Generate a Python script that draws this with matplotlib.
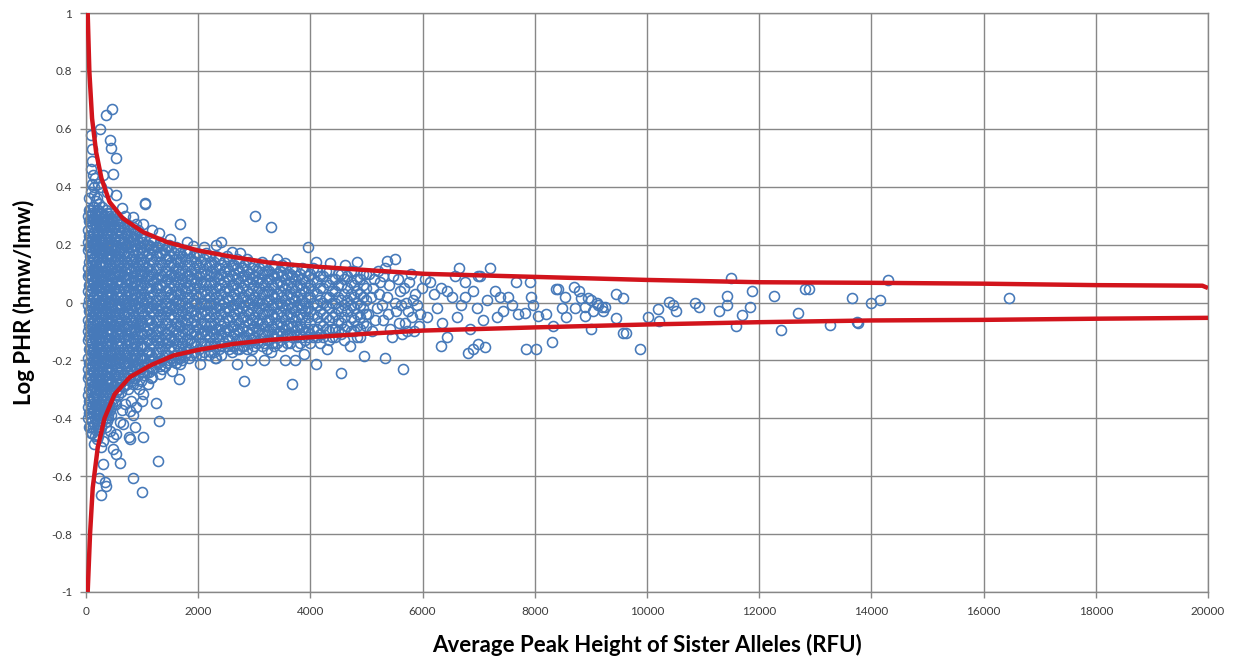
import matplotlib
matplotlib.use('Agg')
from matplotlib import pyplot as plt

# Bounds of the peak height ratio (upper / lower red curves)
upper_x = [30, 60, 108, 180, 275, 420, 660, 1020, 1440, 1990, 2630, 3290, 4010, 5000,
           6040, 8090, 9990, 12000, 14000, 16000, 18000, 19900, 20000]
upper_y = [1.0, 0.797, 0.636, 0.52, 0.429, 0.347, 0.29, 0.243, 0.209, 0.18, 0.157, 0.137,
           0.125, 0.112, 0.099, 0.088, 0.078, 0.07, 0.068, 0.065, 0.06, 0.058, 0.05]
lower_x = [30, 72, 120, 210, 330, 510, 780, 1140, 1560, 1990, 2630, 3290, 4010, 5000,
           6000, 8000, 9990, 12000, 14000, 16000, 18000, 20000]
lower_y = [-1.0, -0.80, -0.64, -0.50, -0.40, -0.317, -0.258, -0.218, -0.183, -0.164, -0.143,
           -0.129, -0.12, -0.108, -0.097, -0.086, -0.076, -0.068, -0.062, -0.06, -0.056, -0.053]

# main cloud of loci, stored per RFU column
cloud_x = [40, 75, 110, 145, 180, 215, 250, 290, 330, 370, 410, 450, 495, 540, 585,
           630, 680, 730, 780, 830, 880, 930, 980,
           1040, 1120, 1200, 1280, 1360, 1440, 1520, 1600, 1680, 1760, 1840, 1920,
           2010, 2100, 2190, 2280, 2370, 2460, 2550, 2640, 2730, 2820, 2910,
           3000, 3090, 3180, 3270, 3360, 3450, 3540, 3630, 3720, 3810, 3900,
           4000, 4110, 4220, 4330, 4440, 4550, 4660, 4770, 4880, 4990]
cloud_y = [
    [0.30, 0.25, 0.21, 0.18, 0.12, 0.09, 0.04, -0.01, -0.06, -0.10, -0.13, -0.19, -0.23, -0.26, -0.32, -0.36, -0.40],
    [0.32, 0.28, 0.23, 0.19, 0.16, 0.10, 0.06, 0.03, -0.03, -0.07, -0.11, -0.16, -0.21, -0.25, -0.28, -0.34, -0.38, -0.43],
    [0.31, 0.27, 0.22, 0.17, 0.14, 0.09, 0.05, 0.00, -0.05, -0.08, -0.14, -0.17, -0.22, -0.27, -0.30, -0.36, -0.41, -0.45],
    [0.33, 0.29, 0.24, 0.21, 0.15, 0.11, 0.07, 0.02, -0.02, -0.06, -0.11, -0.16, -0.19, -0.24, -0.29, -0.33, -0.37, -0.42],
    [0.30, 0.26, 0.22, 0.18, 0.13, 0.08, 0.05, 0.01, -0.04, -0.09, -0.13, -0.17, -0.21, -0.26, -0.31, -0.35, -0.39, -0.44],
    [0.32, 0.28, 0.25, 0.19, 0.15, 0.11, 0.06, 0.02, -0.02, -0.07, -0.11, -0.15, -0.20, -0.24, -0.28, -0.32, -0.37, -0.41, -0.46],
    [0.31, 0.26, 0.21, 0.17, 0.13, 0.08, 0.04, -0.01, -0.05, -0.09, -0.14, -0.18, -0.22, -0.27, -0.31, -0.35, -0.40, -0.44],
    [0.33, 0.28, 0.24, 0.20, 0.16, 0.11, 0.07, 0.03, -0.02, -0.06, -0.10, -0.15, -0.19, -0.23, -0.28, -0.32, -0.36, -0.41],
    [0.30, 0.26, 0.22, 0.18, 0.13, 0.09, 0.05, 0.00, -0.04, -0.08, -0.12, -0.17, -0.21, -0.25, -0.30, -0.34, -0.38],
    [0.31, 0.28, 0.23, 0.19, 0.15, 0.11, 0.06, 0.02, -0.03, -0.07, -0.11, -0.15, -0.20, -0.24, -0.28, -0.33, -0.37, -0.41],
    [0.30, 0.26, 0.22, 0.17, 0.13, 0.09, 0.04, 0.00, -0.04, -0.09, -0.13, -0.17, -0.21, -0.26, -0.30, -0.35],
    [0.29, 0.25, 0.21, 0.16, 0.12, 0.08, 0.03, -0.01, -0.05, -0.10, -0.14, -0.18, -0.23, -0.27, -0.31, -0.36, -0.39],
    [0.29, 0.26, 0.22, 0.18, 0.14, 0.10, 0.05, 0.01, -0.03, -0.08, -0.12, -0.16, -0.20, -0.25, -0.29, -0.33],
    [0.28, 0.24, 0.20, 0.16, 0.11, 0.07, 0.03, -0.02, -0.06, -0.10, -0.14, -0.19, -0.23, -0.27, -0.31, -0.35],
    [0.28, 0.25, 0.21, 0.17, 0.13, 0.09, 0.04, 0.00, -0.04, -0.08, -0.13, -0.17, -0.21, -0.25, -0.30],
    [0.28, 0.24, 0.19, 0.15, 0.11, 0.07, 0.02, -0.02, -0.06, -0.10, -0.15, -0.19, -0.23, -0.27, -0.31],
    [0.26, 0.22, 0.17, 0.13, 0.09, 0.05, 0.00, -0.04, -0.08, -0.12, -0.17, -0.21, -0.25, -0.29],
    [0.27, 0.23, 0.19, 0.14, 0.10, 0.06, 0.02, -0.03, -0.07, -0.11, -0.15, -0.19, -0.24, -0.28],
    [0.25, 0.21, 0.16, 0.12, 0.08, 0.04, -0.01, -0.05, -0.09, -0.13, -0.18, -0.22, -0.26],
    [0.26, 0.22, 0.18, 0.14, 0.09, 0.05, 0.01, -0.03, -0.07, -0.12, -0.16, -0.20, -0.24, -0.28],
    [0.24, 0.20, 0.15, 0.11, 0.07, 0.03, -0.01, -0.06, -0.10, -0.14, -0.18, -0.22, -0.26],
    [0.25, 0.21, 0.17, 0.13, 0.08, 0.04, 0.00, -0.04, -0.08, -0.13, -0.17, -0.21, -0.25],
    [0.23, 0.19, 0.15, 0.10, 0.06, 0.02, -0.02, -0.06, -0.11, -0.15, -0.19, -0.23, -0.27],
    [0.22, 0.18, 0.14, 0.11, 0.07, 0.03, 0.00, -0.04, -0.08, -0.11, -0.15, -0.19, -0.22, -0.25],
    [0.20, 0.17, 0.13, 0.09, 0.05, 0.02, -0.02, -0.06, -0.09, -0.13, -0.17, -0.20, -0.24],
    [0.21, 0.18, 0.14, 0.10, 0.07, 0.03, -0.01, -0.04, -0.08, -0.12, -0.15, -0.19, -0.23],
    [0.19, 0.16, 0.12, 0.08, 0.05, 0.01, -0.03, -0.06, -0.10, -0.14, -0.17, -0.21],
    [0.20, 0.17, 0.13, 0.09, 0.06, 0.02, -0.02, -0.05, -0.09, -0.13, -0.16, -0.20, -0.23],
    [0.19, 0.15, 0.11, 0.08, 0.04, 0.00, -0.03, -0.07, -0.11, -0.14, -0.18, -0.21],
    [0.18, 0.14, 0.10, 0.07, 0.03, -0.01, -0.04, -0.08, -0.12, -0.15, -0.19],
    [0.19, 0.15, 0.12, 0.08, 0.04, 0.01, -0.03, -0.07, -0.10, -0.14, -0.18, -0.21],
    [0.17, 0.14, 0.10, 0.06, 0.03, -0.01, -0.05, -0.08, -0.12, -0.16, -0.19],
    [0.18, 0.15, 0.11, 0.07, 0.04, 0.00, -0.04, -0.07, -0.11, -0.15, -0.18],
    [0.17, 0.13, 0.09, 0.06, 0.02, -0.02, -0.05, -0.09, -0.13, -0.16, -0.19],
    [0.16, 0.12, 0.08, 0.05, 0.01, -0.03, -0.06, -0.10, -0.14, -0.17],
    [0.16, 0.12, 0.09, 0.05, 0.02, -0.02, -0.05, -0.09, -0.12, -0.16],
    [0.15, 0.11, 0.07, 0.04, 0.00, -0.03, -0.07, -0.10, -0.14, -0.17],
    [0.16, 0.13, 0.09, 0.06, 0.02, -0.01, -0.05, -0.08, -0.12, -0.15, -0.18],
    [0.14, 0.10, 0.07, 0.03, 0.00, -0.04, -0.07, -0.11, -0.14, -0.17],
    [0.15, 0.12, 0.08, 0.05, 0.01, -0.02, -0.06, -0.09, -0.13, -0.16],
    [0.14, 0.11, 0.07, 0.04, 0.00, -0.03, -0.07, -0.10, -0.14],
    [0.15, 0.11, 0.08, 0.04, 0.01, -0.03, -0.06, -0.10, -0.13, -0.16],
    [0.13, 0.10, 0.06, 0.03, -0.01, -0.04, -0.08, -0.11, -0.15],
    [0.14, 0.11, 0.07, 0.04, 0.00, -0.03, -0.07, -0.10, -0.13, -0.16],
    [0.13, 0.09, 0.06, 0.02, -0.01, -0.05, -0.08, -0.12, -0.15],
    [0.14, 0.10, 0.07, 0.03, 0.00, -0.04, -0.07, -0.11, -0.14],
    [0.13, 0.09, 0.06, 0.02, -0.01, -0.05, -0.08, -0.12, -0.15],
    [0.12, 0.08, 0.05, 0.01, -0.02, -0.06, -0.09, -0.13],
    [0.13, 0.10, 0.06, 0.03, -0.01, -0.04, -0.08, -0.11, -0.14],
    [0.11, 0.08, 0.04, 0.01, -0.03, -0.06, -0.10, -0.13],
    [0.12, 0.09, 0.05, 0.02, -0.02, -0.05, -0.09, -0.12, -0.15],
    [0.11, 0.07, 0.04, 0.00, -0.03, -0.07, -0.10, -0.13],
    [0.12, 0.08, 0.05, 0.01, -0.02, -0.06, -0.09, -0.12],
    [0.10, 0.07, 0.03, 0.00, -0.04, -0.07, -0.11, -0.14],
    [0.11, 0.08, 0.04, 0.01, -0.03, -0.06, -0.10],
    [0.10, 0.06, 0.03, -0.01, -0.04, -0.08, -0.11, -0.14],
    [0.11, 0.07, 0.04, 0.00, -0.03, -0.07, -0.10, -0.13],
    [0.10, 0.06, 0.02, -0.03, -0.07, -0.11, -0.14],
    [0.11, 0.07, 0.03, -0.01, -0.05, -0.09, -0.12],
    [0.09, 0.05, 0.00, -0.04, -0.08, -0.12],
    [0.11, 0.06, 0.02, -0.02, -0.06, -0.10, -0.13],
    [0.08, 0.04, 0.00, -0.04, -0.09, -0.12],
    [0.10, 0.06, 0.01, -0.03, -0.07, -0.11],
    [0.09, 0.05, 0.01, -0.03, -0.08],
    [0.11, 0.06, 0.02, -0.02, -0.06, -0.10],
    [0.08, 0.03, -0.01, -0.05, -0.09, -0.12],
    [0.10, 0.05, 0.01, -0.04, -0.08],
]

# second set of columns, sitting between the first ones
cloud2_x = [57, 92, 127, 162, 197, 232, 270, 310, 350, 390, 430, 472, 517, 562, 607,
            655, 705, 755, 805, 855, 905, 955, 1005,
            1080, 1160, 1240, 1320, 1400, 1480, 1560, 1640, 1720, 1800, 1880, 1960,
            2055, 2145, 2235, 2325, 2415, 2505, 2595, 2685, 2775, 2865, 2955,
            3045, 3135, 3225, 3315, 3405, 3495, 3585, 3675, 3765, 3855, 3950,
            4055, 4165, 4275, 4385, 4495, 4605, 4715, 4825, 4935]
cloud2_y = [
    [0.32, 0.28, 0.23, 0.19, 0.14, 0.10, 0.06, 0.01, -0.03, -0.08, -0.12, -0.16, -0.21, -0.25, -0.30, -0.34, -0.38, -0.43],
    [0.30, 0.26, 0.21, 0.17, 0.13, 0.08, 0.04, -0.01, -0.05, -0.09, -0.14, -0.18, -0.23, -0.27, -0.31, -0.36, -0.40, -0.45],
    [0.33, 0.29, 0.24, 0.20, 0.15, 0.11, 0.07, 0.02, -0.03, -0.07, -0.11, -0.16, -0.20, -0.24, -0.29, -0.33, -0.38, -0.43],
    [0.31, 0.27, 0.22, 0.18, 0.13, 0.09, 0.05, 0.00, -0.04, -0.09, -0.13, -0.18, -0.22, -0.26, -0.31, -0.35, -0.40, -0.46],
    [0.32, 0.28, 0.24, 0.20, 0.16, 0.11, 0.07, 0.03, -0.02, -0.06, -0.11, -0.15, -0.19, -0.24, -0.28, -0.33, -0.37, -0.42],
    [0.30, 0.26, 0.22, 0.17, 0.13, 0.09, 0.04, 0.00, -0.04, -0.09, -0.13, -0.17, -0.22, -0.26, -0.30, -0.35, -0.39, -0.44],
    [0.31, 0.27, 0.22, 0.18, 0.14, 0.09, 0.05, 0.01, -0.04, -0.08, -0.12, -0.17, -0.21, -0.25, -0.29, -0.34, -0.38, -0.43],
    [0.30, 0.26, 0.21, 0.17, 0.13, 0.09, 0.05, 0.00, -0.04, -0.08, -0.13, -0.17, -0.21, -0.26, -0.30, -0.34, -0.39],
    [0.32, 0.28, 0.24, 0.20, 0.16, 0.11, 0.07, 0.03, -0.02, -0.06, -0.10, -0.15, -0.19, -0.23, -0.27, -0.32, -0.36, -0.40],
    [0.29, 0.25, 0.21, 0.17, 0.12, 0.08, 0.04, 0.00, -0.05, -0.09, -0.13, -0.18, -0.22, -0.26, -0.31, -0.35, -0.39],
    [0.31, 0.27, 0.23, 0.19, 0.15, 0.10, 0.06, 0.02, -0.03, -0.07, -0.11, -0.15, -0.20, -0.24, -0.28, -0.32, -0.37],
    [0.28, 0.24, 0.20, 0.16, 0.12, 0.07, 0.03, -0.01, -0.06, -0.10, -0.14, -0.18, -0.23, -0.27, -0.31, -0.35],
    [0.30, 0.26, 0.22, 0.18, 0.14, 0.09, 0.05, 0.01, -0.04, -0.08, -0.12, -0.17, -0.21, -0.25, -0.29, -0.34],
    [0.27, 0.23, 0.19, 0.15, 0.11, 0.07, 0.02, -0.02, -0.06, -0.11, -0.15, -0.19, -0.23, -0.28, -0.32],
    [0.26, 0.22, 0.18, 0.14, 0.10, 0.06, 0.02, -0.02, -0.07, -0.11, -0.15, -0.19, -0.24, -0.28],
    [0.26, 0.21, 0.17, 0.13, 0.09, 0.05, 0.01, -0.04, -0.08, -0.12, -0.17, -0.21, -0.25, -0.29],
    [0.24, 0.20, 0.16, 0.12, 0.08, 0.04, -0.01, -0.05, -0.09, -0.13, -0.18, -0.22, -0.26],
    [0.25, 0.21, 0.17, 0.12, 0.08, 0.04, 0.00, -0.04, -0.08, -0.13, -0.17, -0.21, -0.26, -0.30],
    [0.23, 0.19, 0.15, 0.11, 0.07, 0.03, -0.02, -0.06, -0.10, -0.14, -0.19, -0.23, -0.27],
    [0.24, 0.20, 0.16, 0.12, 0.07, 0.03, -0.01, -0.05, -0.09, -0.14, -0.18, -0.22, -0.26],
    [0.22, 0.18, 0.14, 0.10, 0.06, 0.02, -0.02, -0.07, -0.11, -0.15, -0.19, -0.23, -0.28],
    [0.23, 0.19, 0.15, 0.11, 0.06, 0.02, -0.02, -0.06, -0.10, -0.15, -0.19, -0.23],
    [0.21, 0.17, 0.13, 0.09, 0.05, 0.01, -0.03, -0.07, -0.11, -0.15, -0.19, -0.24],
    [0.20, 0.16, 0.12, 0.09, 0.05, 0.01, -0.02, -0.06, -0.10, -0.13, -0.17, -0.21, -0.24],
    [0.22, 0.19, 0.15, 0.11, 0.08, 0.04, 0.00, -0.03, -0.07, -0.11, -0.14, -0.18, -0.22, -0.26],
    [0.19, 0.16, 0.12, 0.08, 0.05, 0.01, -0.02, -0.06, -0.10, -0.13, -0.17, -0.21],
    [0.21, 0.17, 0.14, 0.10, 0.06, 0.03, -0.01, -0.04, -0.08, -0.12, -0.15, -0.19, -0.22],
    [0.18, 0.15, 0.11, 0.07, 0.04, 0.00, -0.03, -0.07, -0.11, -0.14, -0.18, -0.22],
    [0.20, 0.16, 0.13, 0.09, 0.05, 0.02, -0.02, -0.05, -0.09, -0.13, -0.16, -0.20],
    [0.17, 0.13, 0.09, 0.06, 0.02, -0.02, -0.05, -0.09, -0.13, -0.16, -0.20],
    [0.18, 0.14, 0.11, 0.07, 0.03, 0.00, -0.04, -0.08, -0.11, -0.15, -0.19],
    [0.16, 0.12, 0.08, 0.05, 0.01, -0.03, -0.06, -0.10, -0.14, -0.17, -0.20],
    [0.17, 0.13, 0.09, 0.05, 0.02, -0.02, -0.06, -0.09, -0.13, -0.17],
    [0.15, 0.11, 0.08, 0.04, 0.00, -0.03, -0.07, -0.11, -0.14, -0.18],
    [0.17, 0.14, 0.10, 0.07, 0.03, 0.00, -0.04, -0.08, -0.11, -0.15, -0.18],
    [0.14, 0.10, 0.07, 0.03, 0.00, -0.04, -0.07, -0.11, -0.14, -0.18],
    [0.17, 0.13, 0.10, 0.06, 0.03, -0.01, -0.04, -0.08, -0.11, -0.15],
    [0.14, 0.11, 0.07, 0.04, 0.00, -0.03, -0.07, -0.10, -0.14, -0.17],
    [0.16, 0.12, 0.09, 0.05, 0.02, -0.02, -0.05, -0.09, -0.12, -0.15, -0.19],
    [0.13, 0.10, 0.06, 0.03, -0.01, -0.04, -0.08, -0.11, -0.15, -0.18],
    [0.16, 0.12, 0.09, 0.05, 0.02, -0.02, -0.05, -0.09, -0.12, -0.15],
    [0.13, 0.09, 0.06, 0.02, -0.01, -0.05, -0.08, -0.12, -0.15, -0.17],
    [0.15, 0.12, 0.08, 0.05, 0.01, -0.02, -0.06, -0.09, -0.13, -0.16],
    [0.12, 0.09, 0.05, 0.02, -0.02, -0.05, -0.09, -0.12, -0.15],
    [0.15, 0.11, 0.08, 0.04, 0.01, -0.03, -0.06, -0.10, -0.13, -0.16],
    [0.12, 0.08, 0.05, 0.01, -0.02, -0.06, -0.09, -0.13, -0.16],
    [0.11, 0.07, 0.04, 0.00, -0.03, -0.07, -0.10, -0.14],
    [0.14, 0.10, 0.07, 0.03, 0.00, -0.04, -0.07, -0.11, -0.15],
    [0.11, 0.08, 0.04, 0.01, -0.03, -0.06, -0.10, -0.13, -0.16],
    [0.13, 0.10, 0.06, 0.03, -0.01, -0.04, -0.08, -0.11, -0.14],
    [0.10, 0.07, 0.03, 0.00, -0.04, -0.07, -0.11, -0.14],
    [0.13, 0.09, 0.06, 0.02, -0.01, -0.05, -0.08, -0.11, -0.15],
    [0.10, 0.06, 0.03, -0.01, -0.04, -0.08, -0.11, -0.14],
    [0.12, 0.09, 0.05, 0.02, -0.02, -0.05, -0.08, -0.12],
    [0.09, 0.06, 0.02, -0.01, -0.05, -0.08, -0.12, -0.15],
    [0.12, 0.08, 0.05, 0.01, -0.02, -0.05, -0.09, -0.12],
    [0.09, 0.05, 0.02, -0.02, -0.05, -0.09, -0.12],
    [0.12, 0.08, 0.04, 0.00, -0.04, -0.09, -0.12],
    [0.09, 0.05, 0.01, -0.03, -0.07, -0.11, -0.14],
    [0.11, 0.07, 0.02, -0.01, -0.05, -0.09],
    [0.08, 0.04, 0.00, -0.05, -0.09, -0.12],
    [0.10, 0.06, 0.02, -0.02, -0.06, -0.10],
    [0.08, 0.03, -0.01, -0.05, -0.09, -0.13],
    [0.11, 0.07, 0.03, -0.01, -0.05, -0.10],
    [0.08, 0.04, 0.00, -0.04, -0.08, -0.12],
    [0.10, 0.06, 0.02, -0.02, -0.07],
]

# loci above the cloud (low RFU side)
high_pts = [(90, .58), (100, .53), (115, .49), (125, .44), (135, .40), (150, .37), (170, .35),
            (195, .36), (230, .34), (85, .38), (95, .46), (60, .36), (270, .40), (105, .41),
            (160, .43), (250, .60), (350, .646), (460, .67), (420, .56), (440, .535), (530, .50),
            (490, .443), (540, .37), (640, .325), (840, .294), (1050, .34), (1060, .345),
            (1020, .27), (1310, .24), (1670, .27), (1800, .21), (2310, .20), (2410, .208),
            (2740, .17), (3020, .30), (3290, .26), (3960, .19), (220, .41), (310, .44),
            (380, .38), (700, .30), (900, .27), (1180, .25), (1500, .22), (2100, .19),
            (2600, .175), (3550, .135), (4350, .135), (4620, .128), (4830, .14), (5370, .145),
            (5510, .15), (1900, .195), (3400, .15), (4100, .14)]

# loci below the cloud
low_pts = [(270, -.50), (300, -.557), (240, -.605), (330, -.62), (360, -.633), (270, -.665),
           (480, -.505), (540, -.523), (600, -.553), (830, -.605), (990, -.653), (1290, -.547),
           (1010, -.464), (770, -.466), (790, -.47), (870, -.43), (1300, -.408), (1240, -.348),
           (600, -.414), (660, -.42), (840, -.39), (900, -.362), (810, -.339), (780, -.374),
           (1020, -.316), (990, -.339), (1110, -.28), (1170, -.258), (1320, -.247),
           (1530, -.235), (1650, -.264), (1680, -.212), (2040, -.212), (2700, -.212),
           (2820, -.27), (2940, -.2), (3180, -.2), (3680, -.281), (3540, -.2), (3720, -.2),
           (3890, -.178), (4100, -.212), (300, -.477), (420, -.443), (480, -.466), (540, -.454),
           (360, -.431), (4550, -.245), (5655, -.231), (4960, -.186), (5330, -.19), (700, -.35),
           (950, -.30), (1400, -.22), (2300, -.19), (3300, -.17), (4300, -.16), (4700, -.15),
           (200, -.47), (150, -.49), (400, -.40), (650, -.37)]

# thinner tail at higher peak heights
tail_pts = [(5050, .10), (5120, .05), (5180, -.02), (5240, .07), (5300, -.06), (5360, .02),
            (5420, -.09), (5470, .09), (5530, -.03), (5590, .04), (5640, -.11), (5700, .00),
            (5760, .07), (5810, -.05), (5870, .03), (5930, -.08), (5990, .05), (5100, -.10),
            (5210, .11), (5330, .12), (5450, -.12), (5560, .08), (5680, -.07), (5790, .10),
            (5900, -.01), (5020, -.04), (5270, -.01), (5610, -.01), (5850, -.10),
            (5080, .02), (5150, -.06), (5230, .03), (5290, .09), (5390, -.04), (5500, .00),
            (5580, -.07), (5660, .05), (5740, -.03), (5830, .01), (5960, -.04), (5140, .08),
            (5400, .06), (5720, -.10),
            (6050, .08), (6130, .07), (6200, .03), (6260, -.02), (6330, .05), (6350, -.07),
            (6430, .04), (6430, -.12), (6520, .02), (6580, .09), (6610, -.05), (6690, -.01),
            (6750, .07), (6750, .02), (6850, -.09), (6900, .04), (6970, -.02), (7020, .09),
            (7080, -.06), (7150, .01), (7210, .12), (7290, .04), (7320, -.05), (7380, .02),
            (7440, -.03), (6080, -.05), (6650, .12), (6990, .09), (6330, -.149), (6815, -.176),
            (6900, -.159), (6990, -.142), (7120, -.155),
            (7520, .02), (7600, -.01), (7670, .07), (7700, -.04), (7830, -.035), (7850, -.16),
            (7920, .07), (7940, .02), (7970, -.01), (8030, -.16), (8060, -.045), (8200, -.04),
            (8310, -.135), (8330, -.08), (8380, .045), (8420, .045), (8480, -.02), (8540, .02),
            (8560, -.05), (8700, .055), (8720, -.02), (8780, .04), (8830, .014), (8900, -.045),
            (8900, -.017), (8950, .014), (9010, -.09), (9010, .007), (9040, -.028), (9100, .0),
            (9130, -.007), (9190, -.014), (9220, -.028), (9260, -.017), (9450, .028),
            (9440, -.052), (9580, .017), (9580, -.107), (9620, -.107), (9880, -.16),
            (10010, -.05), (10200, -.024), (10220, -.065), (10400, .003), (10470, -.007),
            (10510, -.028), (10860, -.003), (10930, -.014), (11280, -.028), (11420, .024),
            (11420, -.007), (11490, .086), (11580, -.08), (11700, -.043), (11840, -.014),
            (11880, .038), (12260, .021), (12380, -.095), (12690, -.035), (12820, .048),
            (12880, .048), (13270, -.076), (13650, .017), (13740, -.069), (13770, -.072),
            (14000, -.003), (14160, .007), (14290, .078), (16450, .017)]

ytick_vals = [-1, -0.8, -0.6, -0.4, -0.2, 0, 0.2, 0.4, 0.6, 0.8, 1]
ytick_labels = ['-1', '-0.8', '-0.6', '-0.4', '-0.2', '0', '0.2', '0.4', '0.6', '0.8', '1']
xtick_vals = list(range(0, 20001, 2000))

# flatten everything into x / y
xs, ys = [], []
for cols_x, cols_y in ((cloud_x, cloud_y), (cloud2_x, cloud2_y)):
    for cx, col in zip(cols_x, cols_y):
        for v in col:
            xs.append(cx)
            ys.append(v)
for px, py in high_pts + low_pts + tail_pts:
    xs.append(px)
    ys.append(py)

plt.rcParams['font.family'] = ['Lato', 'DejaVu Sans']

fig = plt.figure(figsize=(12.41, 6.64), dpi=100)
ax = fig.add_axes([86 / 1241, 1 - 592 / 664, 1122 / 1241, 579 / 664])

grid_c = '#878787'
ax.plot(xs, ys, linestyle='none', marker='o', markersize=7.2, markerfacecolor='none',
        markeredgecolor='#4679b9', markeredgewidth=1.15, zorder=2, clip_on=False)
ax.plot(upper_x, upper_y, color='#d2141c', linewidth=3.2, zorder=3, solid_capstyle='butt')
ax.plot(lower_x, lower_y, color='#d2141c', linewidth=3.2, zorder=3, solid_capstyle='butt')

ax.set_xlim(0, 20000)
ax.set_ylim(-1, 1)
ax.set_xticks(xtick_vals)
ax.set_xticklabels([str(v) for v in xtick_vals])
ax.set_yticks(ytick_vals)
ax.set_yticklabels(ytick_labels)
ax.grid(True, color=grid_c, linewidth=1.0, zorder=0)
ax.set_axisbelow(True)
for s in ax.spines.values():
    s.set_color(grid_c)
    s.set_linewidth(1.0)
ax.tick_params(direction='out', length=4, width=1, color=grid_c, labelsize=8.5,
               labelcolor='#3c3c3c', pad=6)

ax.set_xlabel('Average Peak Height of Sister Alleles (RFU)', fontsize=16, fontweight='bold',
              labelpad=12)
ax.set_ylabel('Log PHR (hmw/lmw)', fontsize=16, fontweight='bold', labelpad=12)

fig.savefig('out.png', dpi=100)
plt.close()
